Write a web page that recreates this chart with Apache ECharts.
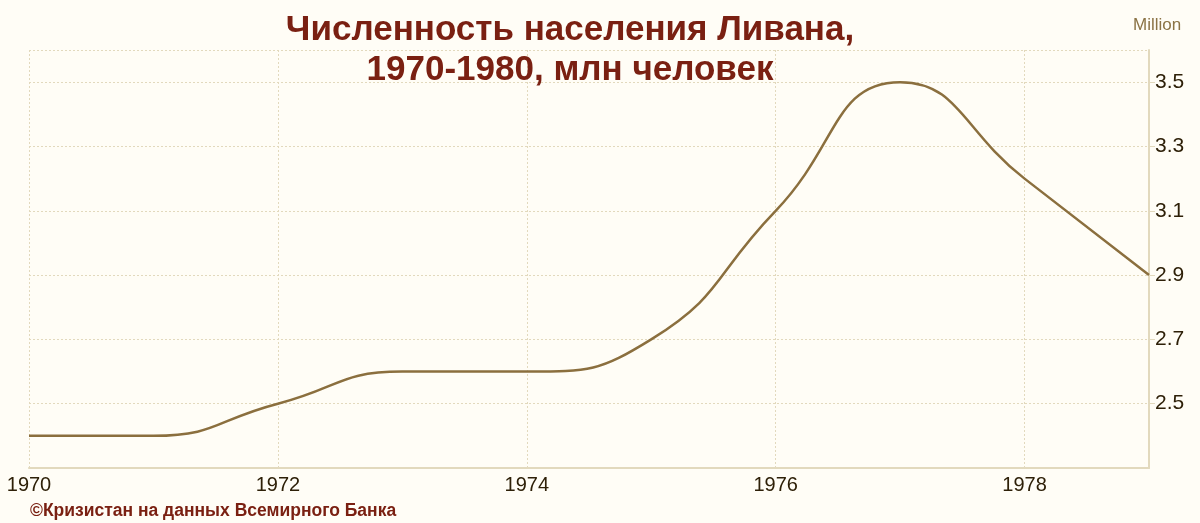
<!DOCTYPE html>
<html>
<head>
<meta charset="utf-8">
<script src="https://cdn.jsdelivr.net/npm/echarts@6/dist/echarts.min.js"></script>
<style>
  html, body { margin: 0; padding: 0; background: #fffdf6; }
  #chart { width: 1200px; height: 523px; }
</style>
</head>
<body>
<div id="chart"></div>
<script>
// годы и численность (млн человек)
var years = [1970, 1971, 1972, 1973, 1974, 1975, 1976, 1977, 1978, 1979];
var population = [2.4, 2.4, 2.5, 2.6, 2.6, 2.7, 3.1, 3.5, 3.2, 2.9];

var gridColor = "#e2d9bd";
var labelColor = "#2e2008";

var chart = echarts.init(document.getElementById("chart"));
var option = {
  backgroundColor: "#fffdf6",
  title: [
    {
      text: "Численность населения Ливана,\n1970-1980, млн человек",
      left: 565,
      top: 5,
      textAlign: "center",
      textStyle: {
        fontFamily: "Liberation Sans",
        fontWeight: "bold",
        fontSize: 35,
        lineHeight: 40,
        color: "#7a2012"
      }
    },
    {
      text: "©Кризистан на данных Всемирного Банка",
      left: 25,
      top: 497,
      textStyle: {
        fontFamily: "Liberation Sans",
        fontWeight: "bold",
        fontSize: 17.5,
        color: "#7a2012"
      }
    },
    {
      text: "Million",
      left: 1128,
      top: 12,
      textStyle: {
        fontFamily: "Liberation Sans",
        fontWeight: "normal",
        fontSize: 17,
        color: "#8b7345"
      }
    }
  ],
  grid: {
    left: 29,
    right: 51,
    top: 50,
    bottom: 55
  },
  xAxis: {
    type: "value",
    min: 1970,
    max: 1979,
    interval: 2,
    axisLine: { show: true, lineStyle: { color: gridColor, width: 2 } },
    axisTick: { show: false },
    axisLabel: {
      showMaxLabel: false,
      color: labelColor,
      fontFamily: "Liberation Sans",
      fontSize: 20,
      margin: 7,
      formatter: function (v) { return String(v); }
    },
    splitLine: { show: true, lineStyle: { color: gridColor, type: [2, 2], width: 1 } }
  },
  yAxis: {
    type: "value",
    position: "right",
    min: 2.3,
    max: 3.6,
    interval: 0.2,
    axisLine: { show: true, lineStyle: { color: gridColor, width: 2 } },
    axisTick: { show: true, length: 6, lineStyle: { color: gridColor } },
    axisLabel: {
      showMinLabel: false,
      showMaxLabel: false,
      color: labelColor,
      fontFamily: "Liberation Sans",
      fontSize: 21,
      margin: 6,
      formatter: function (v) { return v.toFixed(1); }
    },
    splitLine: { show: true, lineStyle: { color: gridColor, type: [2, 2], width: 1 } }
  },
  series: [
    {
      type: "line",
      data: years.map(function (y, i) { return [y, population[i]]; }),
      smooth: 0.5,
      showSymbol: false,
      lineStyle: { color: "#8b6f3e", width: 2.5 }
    }
  ]
};
chart.setOption(option);
</script>
</body>
</html>
